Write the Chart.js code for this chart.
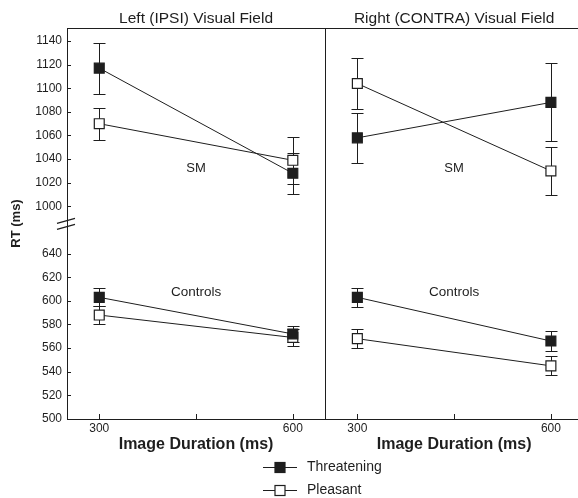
<!DOCTYPE html>
<html><head><meta charset="utf-8">
<script src="https://cdn.jsdelivr.net/npm/chart.js@4/dist/chart.umd.min.js"></script>
<style>html,body{margin:0;padding:0;background:#fff}#wrap{width:578px;height:498px;position:relative}</style>
</head><body><div id="wrap"><canvas id="c" width="578" height="498"></canvas></div>
<script>
// ---- data ----
const durations = [300, 600];
const panelTitles = ['Left (IPSI) Visual Field', 'Right (CONTRA) Visual Field'];
const conditions = ['Threatening', 'Pleasant'];
const groupLabels = ['SM', 'Controls'];

const smLeftThreat = [1117, 1028];
const smLeftThreatErr = [21.5, 17.5];
const smLeftPleasant = [1070, 1039];
const smLeftPleasantErr = [13.5, 20];
const smRightThreat = [1058, 1088];
const smRightThreatErr = [21, 33];
const smRightPleasant = [1104, 1030];
const smRightPleasantErr = [21.5, 20];

const ctlLeftThreat = [603, 572];
const ctlLeftThreatErr = [7.5, 6.5];
const ctlLeftPleasant = [588, 569];
const ctlLeftPleasantErr = [8, 7];
const ctlRightThreat = [603, 566];
const ctlRightThreatErr = [8, 8.5];
const ctlRightPleasant = [568, 545];
const ctlRightPleasantErr = [8, 8];

const yTickLabels = [500, 520, 540, 560, 580, 600, 620, 640, 1000, 1020, 1040, 1060, 1080, 1100, 1120, 1140];
const xTickValues = [300, 450, 600];
const xTickLabels = ['300', '', '600'];
const groupLabelValues = [1032, 607];
const xTitle = 'Image Duration (ms)';
const yTitle = 'RT (ms)';

// ---- axis-break helpers ----
const BREAK_OFFSET = 320;       // upper segment (>=900) is shifted down by this
const PANEL_OFFSET = 400;       // right panel x shift
const mapY = v => v >= 900 ? v - BREAK_OFFSET : v;
const unmapY = v => v > 660 ? v + BREAK_OFFSET : v;

const FONT = '"Liberation Sans", Arial, Helvetica, sans-serif';
const INK = '#1e1e1e';

const series = [
  [ [smLeftThreat, smLeftThreatErr, smLeftPleasant, smLeftPleasantErr],
    [ctlLeftThreat, ctlLeftThreatErr, ctlLeftPleasant, ctlLeftPleasantErr] ],
  [ [smRightThreat, smRightThreatErr, smRightPleasant, smRightPleasantErr],
    [ctlRightThreat, ctlRightThreatErr, ctlRightPleasant, ctlRightPleasantErr] ]
];

const datasets = [];
series.forEach((panel, p) => {
  panel.forEach((grp, g) => {
    conditions.forEach((cond, c) => {
      const vals = grp[c * 2], errs = grp[c * 2 + 1];
      datasets.push({
        label: cond,
        data: durations.map((d, i) => ({x: d + p * PANEL_OFFSET, y: mapY(vals[i])})),
        errors: errs,
        borderColor: INK,
        borderWidth: 1,
        pointStyle: 'rect',
        pointRadius: 7,
        pointHoverRadius: 7,
        pointBorderWidth: 1.2,
        pointBorderColor: INK,
        pointBackgroundColor: c === 0 ? INK : '#ffffff',
        tension: 0,
        fill: false
      });
    });
  });
});

const yTicksMapped = yTickLabels.map(mapY);
const xTicksAll = [];
const xLabelMap = {};
[0, 1].forEach(p => xTickValues.forEach((v, i) => {
  xTicksAll.push(v + p * PANEL_OFFSET);
  xLabelMap[v + p * PANEL_OFFSET] = xTickLabels[i];
}));

const errorBars = {
  id: 'errorBars',
  beforeDatasetsDraw(chart) {
    const ctx = chart.ctx, ys = chart.scales.y;
    ctx.save();
    ctx.strokeStyle = INK; ctx.lineWidth = 1;
    chart.data.datasets.forEach((ds, di) => {
      const meta = chart.getDatasetMeta(di);
      meta.data.forEach((pt, i) => {
        const v = ds.data[i].y, e = ds.errors[i];
        const yt = Math.round(ys.getPixelForValue(v + e)) + 0.5;
        const yb = Math.round(ys.getPixelForValue(v - e)) + 0.5;
        const x = Math.round(pt.x) + 0.5;
        ctx.beginPath();
        ctx.moveTo(x, yt); ctx.lineTo(x, yb);
        ctx.moveTo(x - 6, yt); ctx.lineTo(x + 6, yt);
        ctx.moveTo(x - 6, yb); ctx.lineTo(x + 6, yb);
        ctx.stroke();
      });
    });
    ctx.restore();
  }
};

const decorations = {
  id: 'decorations',
  afterDraw(chart) {
    const ctx = chart.ctx, a = chart.chartArea, xs = chart.scales.x, ys = chart.scales.y;
    ctx.save();
    ctx.strokeStyle = INK; ctx.lineWidth = 1;
    // frame top + divider
    const divX = Math.round(xs.getPixelForValue(650)) + 0.5;
    ctx.beginPath();
    ctx.moveTo(a.left, Math.round(a.top) + 0.5); ctx.lineTo(a.right, Math.round(a.top) + 0.5);
    ctx.moveTo(divX, a.top); ctx.lineTo(divX, a.bottom);
    // inward y ticks
    yTicksMapped.forEach(v => {
      const y = Math.round(ys.getPixelForValue(v)) + 0.5;
      ctx.moveTo(a.left, y); ctx.lineTo(a.left + 4, y);
    });
    // inward x ticks
    xTicksAll.forEach(v => {
      const x = Math.round(xs.getPixelForValue(v)) + 0.5;
      ctx.moveTo(x, a.bottom); ctx.lineTo(x, a.bottom - 5);
    });
    ctx.stroke();
    // axis break marks
    const by = ys.getPixelForValue(666);
    ctx.beginPath();
    ctx.lineWidth = 1.2;
    ctx.moveTo(a.left - 10, by + 0.5); ctx.lineTo(a.left + 8, by - 4.5);
    ctx.moveTo(a.left - 10, by + 6.5); ctx.lineTo(a.left + 8, by + 1.5);
    ctx.stroke();

    ctx.fillStyle = INK;
    ctx.textAlign = 'center'; ctx.textBaseline = 'middle';
    [0, 1].forEach(p => {
      const cx = xs.getPixelForValue(450 + p * PANEL_OFFSET);
      ctx.font = '15.5px ' + FONT;
      ctx.fillText(panelTitles[p], cx, 18.5);
      ctx.font = 'bold 16px ' + FONT;
      ctx.fillText(xTitle, cx, 445);
      ctx.font = '13px ' + FONT;
      ctx.fillText(groupLabels[0], cx, ys.getPixelForValue(mapY(groupLabelValues[0])));
      ctx.font = '13.5px ' + FONT;
      ctx.fillText(groupLabels[1], cx, ys.getPixelForValue(mapY(groupLabelValues[1])));
    });

    // legend
    const legY = [467, 490];
    conditions.forEach((cond, c) => {
      const y = legY[c];
      ctx.beginPath();
      ctx.lineWidth = 1; ctx.strokeStyle = INK;
      ctx.moveTo(263, y + 0.5); ctx.lineTo(297, y + 0.5);
      ctx.stroke();
      ctx.lineWidth = 1.2;
      ctx.fillStyle = c === 0 ? INK : '#fff';
      ctx.fillRect(275, y - 4.5, 10, 10);
      ctx.strokeRect(275, y - 4.5, 10, 10);
      ctx.fillStyle = INK;
      ctx.font = '14px ' + FONT;
      ctx.textAlign = 'left';
      ctx.fillText(cond, 307, y);
    });
    ctx.restore();
  }
};

new Chart(document.getElementById('c'), {
  type: 'line',
  data: {datasets},
  options: {
    responsive: false,
    animation: false,
    events: [],
    layout: {autoPadding: false, padding: {top: 28, left: 0, right: 0, bottom: 0}},
    plugins: {legend: {display: false}, tooltip: {enabled: false}, title: {display: false}},
    scales: {
      x: {
        type: 'linear', min: 250, max: 1042,
        afterFit: s => { s.height = 79; },
        afterBuildTicks: s => { s.ticks = xTicksAll.map(v => ({value: v})); },
        ticks: {
          autoSkip: false, maxRotation: 0, padding: 2, color: INK,
          font: {family: FONT, size: 12},
          callback: v => xLabelMap[v] !== undefined ? xLabelMap[v] : ''
        },
        grid: {display: true, drawOnChartArea: false, drawTicks: false},
        border: {display: true, color: INK, width: 1}
      },
      y: {
        type: 'linear', min: 500, max: 831,
        afterFit: s => { s.width = 67; },
        afterBuildTicks: s => { s.ticks = yTicksMapped.map(v => ({value: v})); },
        ticks: {
          autoSkip: false, padding: 5, color: INK,
          font: {family: FONT, size: 12},
          callback: v => String(unmapY(v))
        },
        grid: {display: true, drawOnChartArea: false, drawTicks: false},
        border: {display: true, color: INK, width: 1},
        title: {display: true, text: yTitle, color: INK, padding: {top: 9, bottom: 0},
                font: {family: FONT, size: 13, weight: 'bold'}}
      }
    }
  },
  plugins: [errorBars, decorations]
});
</script></body></html>
